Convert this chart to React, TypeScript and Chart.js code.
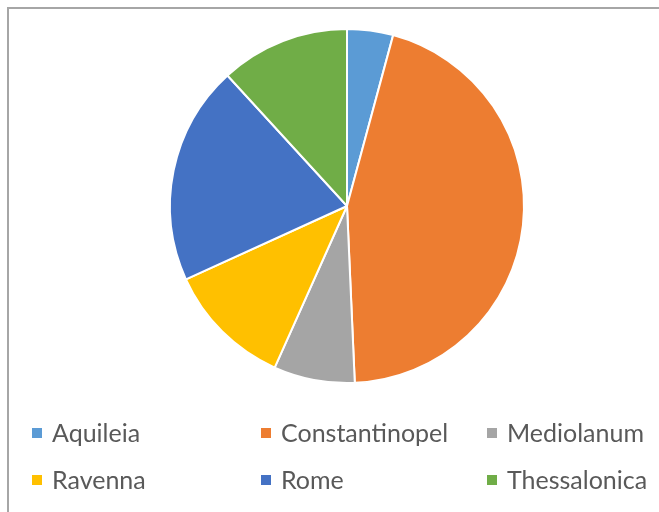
import React, { useEffect, useRef } from "react";
import { Chart, registerables } from "chart.js";

Chart.register(...registerables);

const labels = ["Aquileia", "Constantinopel", "Mediolanum", "Ravenna", "Rome", "Thessalonica"];
const values = [4.2, 45.1, 7.4, 11.5, 20.0, 11.8];
const colors = ["#5B9BD5", "#ED7D31", "#A5A5A5", "#FFC000", "#4472C4", "#70AD47"];

const legendCols = [32, 261, 487];
const legendRows = [442, 489];

const gridLegend = {
  id: "gridLegend",
  afterDraw(chart: any) {
    const ctx = chart.ctx;
    const meta = chart.getDatasetMeta(0);
    ctx.save();
    ctx.font = '25px Lato, "Noto Sans", sans-serif';
    ctx.textBaseline = "alphabetic";
    ctx.textAlign = "left";
    chart.data.labels.forEach((lab: string, i: number) => {
      const col = i % 3;
      const row = Math.floor(i / 3);
      const x = legendCols[col];
      const y = legendRows[row];
      const color = meta.data[i]?.options?.backgroundColor ?? colors[i];
      ctx.fillStyle = color;
      ctx.fillRect(x, y - 14, 10, 10);
      ctx.fillStyle = "#595959";
      ctx.fillText(lab, x + 20, y);
    });
    ctx.restore();
  },
};

export default function App() {
  const ref = useRef<HTMLCanvasElement>(null);
  useEffect(() => {
    if (!ref.current) return;
    const chart = new Chart(ref.current, {
      type: "pie",
      data: {
        labels,
        datasets: [
          {
            data: values,
            backgroundColor: colors,
            borderColor: "#ffffff",
            borderWidth: 2,
            hoverOffset: 0,
          },
        ],
      },
      options: {
        animation: false,
        responsive: false,
        maintainAspectRatio: false,
        layout: { padding: { left: 169, top: 28, right: 134, bottom: 128 } },
        plugins: {
          legend: { display: false },
          tooltip: { enabled: false },
        },
      },
      plugins: [gridLegend],
    });
    return () => chart.destroy();
  }, []);
  return (
    <div style={{ position: "fixed", left: 0, top: 0, width: 659, height: 512, background: "#fff", overflow: "hidden" }}>
      <canvas ref={ref} width={659} height={512} style={{ position: "absolute", left: 0, top: 0 }} />
      <div
        style={{
          position: "absolute",
          left: 7,
          top: 7,
          width: 700,
          height: 600,
          borderTop: "2px solid #a6a6a6",
          borderLeft: "2px solid #a6a6a6",
          pointerEvents: "none",
        }}
      />
    </div>
  );
}
